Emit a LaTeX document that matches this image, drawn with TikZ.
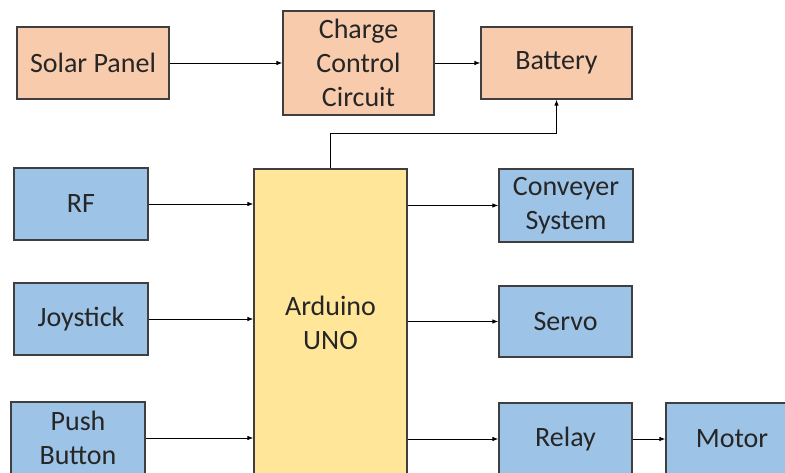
\documentclass[tikz,border=0pt]{standalone}
\usepackage{fontspec}
\setmainfont{Carlito}
\usetikzlibrary{arrows.meta,positioning}

\definecolor{powerfill}{HTML}{F8CBAD}
\definecolor{iofill}{HTML}{9DC3E6}
\definecolor{mcufill}{HTML}{FFE699}
\definecolor{boxline}{HTML}{3F3F3F}

\begin{document}
\begin{tikzpicture}[
    x=1pt, y=1pt,
    every node/.append style={font=\fontsize{28}{34}\selectfont, text=black!85},  % Calibri-like sans
    block/.style={draw=boxline, line width=1.3pt, align=center, inner sep=0pt},
    power/.style={block, fill=powerfill},
    io/.style={block, fill=iofill, minimum width=134pt, minimum height=72pt},
    mcu/.style={block, fill=mcufill, minimum width=153pt, minimum height=308pt},
    flow/.style={draw, line width=0.8pt, -{Latex[length=6pt,width=4.5pt]}},
]
\clip (0,0) rectangle (785,472);

% power path
\node[power, minimum width=152pt, minimum height=72pt] (solar) at (93,409) {Solar Panel};
\node[power, minimum width=151pt, minimum height=104pt] (ccc) at (358.5,409) {Charge\\Control\\Circuit};
\node[power, minimum width=151pt, minimum height=72pt] (bat) at (556.5,409) {Battery};

% controller
\node[mcu] (ard) at (330.5,149) {Arduino\\UNO};

% inputs
\node[io] (rf) at (81,268) {RF};
\node[io] (joy) at (81,153) {Joystick};
\node[io] (push) at (78,34) {Push\\Button};

% outputs
\node[io, minimum height=73pt] (conv) at (566,266.5) {Conveyer\\System};
\node[io, minimum width=133pt, minimum height=71pt] (servo) at (565.5,150.5) {Servo};
\node[io, minimum width=133pt] (relay) at (565.5,33) {Relay};
\node[io, minimum width=132pt] (motor) at (732,33) {Motor};

\draw[flow] (solar) -- (ccc);
\draw[flow] (ccc) -- (bat);
\draw[flow] (ard.north) -- ++(0,35) -| (bat.south);

\draw[flow] (rf.east) -- (rf.east -| ard.west);
\draw[flow] (joy.east) -- (joy.east -| ard.west);
\draw[flow] (push.east) -- (push.east -| ard.west);

\draw[flow] (ard.east |- conv.west) -- (conv.west);
\draw[flow] (ard.east |- servo.west) -- (servo.west);
\draw[flow] (ard.east |- relay.west) -- (relay.west);
\draw[flow] (relay) -- (motor);

\end{tikzpicture}
\end{document}
